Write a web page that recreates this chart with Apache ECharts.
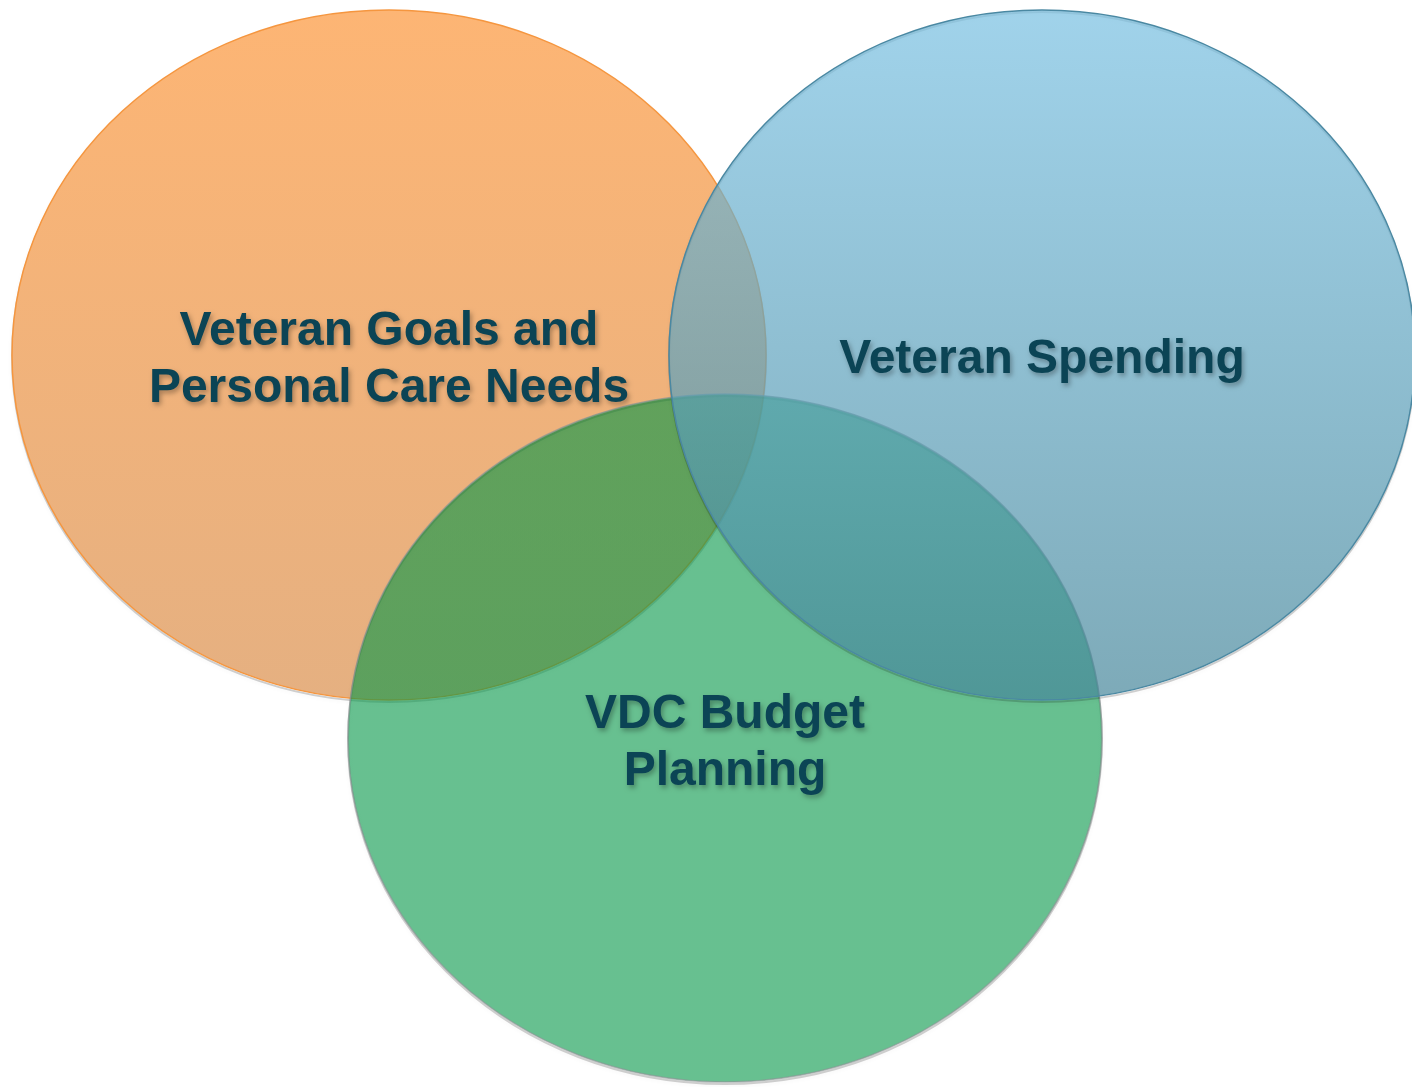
<!DOCTYPE html>
<html>
<head>
<meta charset="utf-8">
<script src="https://cdn.jsdelivr.net/npm/echarts@6/dist/echarts.min.js"></script>
<style>
  html, body { margin: 0; padding: 0; background: #ffffff; }
  #chart { width: 1412px; height: 1087px; }
</style>
</head>
<body>
<div id="chart"></div>
<script>
// ---- Data (axis units) ----
const setNames = ['Veteran Goals and\nPersonal Care Needs', 'VDC Budget\nPlanning', 'Veteran Spending'];
const centerX = [389, 725, 1042];
const centerY = [355, 738, 355];
const radiusX = [377, 377, 373];
const radiusY = [345, 344, 345];

// ---- Styles (kept separate from data) ----
const fills = [
  { top: 'rgb(253,181,116)', bottom: 'rgb(229,176,129)' },
  { top: 'rgba(2,150,70,0.6)', bottom: 'rgba(2,150,70,0.6)' },
  { top: 'rgba(120,192,226,0.7)', bottom: 'rgba(70,134,154,0.7)' }
];
const strokes = ['#F5963F', 'rgba(140,150,150,0.7)', '#4A88A2'];
const labelOffsetY = 5;

const seriesData = setNames.map((n, i) => [centerX[i], centerY[i], radiusX[i], radiusY[i], i]);

const chart = echarts.init(document.getElementById('chart'), null, { renderer: 'canvas' });

function shapeItem(params, api) {
  const i = api.value(4);
  const c = api.coord([api.value(0), api.value(1)]);
  const s = api.size([api.value(2), api.value(3)]);
  const rx = Math.abs(s[0]), ry = Math.abs(s[1]);
  return {
    type: 'group',
    children: [
      {
        type: 'ellipse',
        shape: { cx: c[0], cy: c[1] + 2, rx: rx, ry: ry },
        style: {
          fill: 'none',
          stroke: 'rgba(0,0,0,0.18)',
          lineWidth: 2,
          shadowColor: 'rgba(0,0,0,0.25)',
          shadowBlur: 4,
          shadowOffsetY: 1
        },
        silent: true
      },
      {
        type: 'ellipse',
        shape: { cx: c[0], cy: c[1], rx: rx, ry: ry },
        style: {
          fill: new echarts.graphic.LinearGradient(0, 0, 0, 1, [
            { offset: 0, color: fills[i].top },
            { offset: 1, color: fills[i].bottom }
          ]),
          stroke: strokes[i],
          lineWidth: 1.5
        }
      }
    ]
  };
}

function labelItem(params, api) {
  const i = api.value(4);
  const c = api.coord([api.value(0), api.value(1)]);
  return {
    type: 'text',
    x: c[0],
    y: c[1] + labelOffsetY,
    style: {
      text: setNames[i],
      fontFamily: '"Liberation Sans", Arial, sans-serif',
      fontWeight: 'bold',
      fontSize: 48,
      lineHeight: 57,
      fill: '#0B4455',
      align: 'center',
      verticalAlign: 'middle',
      textShadowColor: 'rgba(0,0,0,0.3)',
      textShadowBlur: 5,
      textShadowOffsetX: 2,
      textShadowOffsetY: 3
    }
  };
}

chart.setOption({
  animation: false,
  backgroundColor: '#ffffff',
  grid: { left: 0, right: 0, top: 0, bottom: 0 },
  xAxis: { type: 'value', min: 0, max: 1412, show: false },
  yAxis: { type: 'value', min: 0, max: 1087, inverse: true, show: false },
  series: [
    {
      type: 'custom',
      renderItem: shapeItem,
      data: seriesData,
      clip: false,
      z: 1
    },
    {
      type: 'custom',
      renderItem: labelItem,
      data: seriesData,
      clip: false,
      z: 5
    }
  ]
});
</script>
</body>
</html>
